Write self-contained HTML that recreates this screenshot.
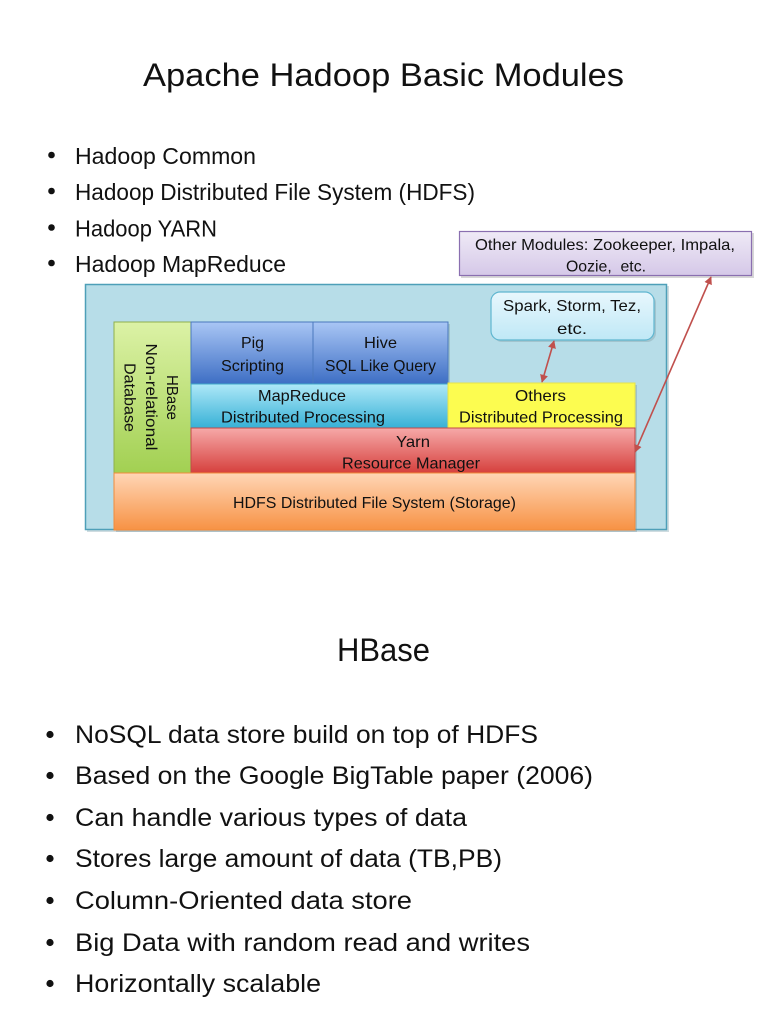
<!DOCTYPE html>
<html>
<head>
<meta charset="utf-8">
<style>
  html, body { margin: 0; padding: 0; background: #ffffff; }
  svg { display: block; }
  text { font-family: "Liberation Sans", "DejaVu Sans", sans-serif; fill: #111111; }
</style>
</head>
<body>
<svg width="768" height="1024" viewBox="0 0 768 1024" xmlns="http://www.w3.org/2000/svg">
  <defs>
    <linearGradient id="gGreen" x1="0" y1="0" x2="0" y2="1">
      <stop offset="0" stop-color="#dcf2a6"/>
      <stop offset="1" stop-color="#a2d052"/>
    </linearGradient>
    <linearGradient id="gBlue" x1="0" y1="0" x2="0" y2="1">
      <stop offset="0" stop-color="#a9c6f5"/>
      <stop offset="1" stop-color="#3d6ec4"/>
    </linearGradient>
    <linearGradient id="gCyan" x1="0" y1="0" x2="0" y2="1">
      <stop offset="0" stop-color="#aee8f8"/>
      <stop offset="1" stop-color="#37b1d6"/>
    </linearGradient>
    <linearGradient id="gRed" x1="0" y1="0" x2="0" y2="1">
      <stop offset="0" stop-color="#f6a9a8"/>
      <stop offset="1" stop-color="#d6403d"/>
    </linearGradient>
    <linearGradient id="gOrange" x1="0" y1="0" x2="0" y2="1">
      <stop offset="0" stop-color="#ffd6b6"/>
      <stop offset="1" stop-color="#f79244"/>
    </linearGradient>
    <linearGradient id="gSpark" x1="0" y1="0" x2="0" y2="1">
      <stop offset="0" stop-color="#e8f7fd"/>
      <stop offset="1" stop-color="#bfe8f6"/>
    </linearGradient>
    <linearGradient id="gLav" x1="0" y1="0" x2="0" y2="1">
      <stop offset="0" stop-color="#efeaf6"/>
      <stop offset="1" stop-color="#d5c8e8"/>
    </linearGradient>
    <marker id="ah" viewBox="0 0 10 10" refX="9" refY="5" markerWidth="8" markerHeight="8" orient="auto-start-reverse" markerUnits="userSpaceOnUse">
      <path d="M0,0 L10,5 L0,10 z" fill="#c0504d"/>
    </marker>
  </defs>

  <!-- Title -->
  <text x="143" y="86" font-size="32" textLength="481" lengthAdjust="spacingAndGlyphs">Apache Hadoop Basic Modules</text>

  <!-- First bullet list -->
  <g>
    <circle cx="51.5" cy="155" r="3.3" fill="#111"/>
    <text x="75" y="164" font-size="23" textLength="181" lengthAdjust="spacingAndGlyphs">Hadoop Common</text>
    <circle cx="51.5" cy="191" r="3.3" fill="#111"/>
    <text x="75" y="200" font-size="23" textLength="400" lengthAdjust="spacingAndGlyphs">Hadoop Distributed File System (HDFS)</text>
    <circle cx="51.5" cy="227.5" r="3.3" fill="#111"/>
    <text x="75" y="236.5" font-size="23" textLength="142" lengthAdjust="spacingAndGlyphs">Hadoop YARN</text>
    <circle cx="51.5" cy="263" r="3.3" fill="#111"/>
    <text x="75" y="272" font-size="23" textLength="211" lengthAdjust="spacingAndGlyphs">Hadoop MapReduce</text>
  </g>

  <!-- Diagram outer box -->
  <rect x="87" y="286" width="582" height="246" fill="#9fb9c2" opacity="0.5"/>
  <rect x="85.5" y="284.5" width="581" height="245" fill="#b7dde8" stroke="#4e9fb8" stroke-width="1.5"/>

  <!-- stack shadow following outline -->
  <path d="M116,324 L450,324 L450,385 L637,385 L637,532 L116,532 Z" fill="#6f8f99" opacity="0.35"/>

  <!-- HBase green -->
  <rect x="114" y="322" width="77" height="151" fill="url(#gGreen)" stroke="#8fb04c" stroke-width="1"/>
  <text transform="translate(167,397.5) rotate(90)" font-size="16" text-anchor="middle" textLength="45" lengthAdjust="spacingAndGlyphs">HBase</text>
  <text transform="translate(146,397) rotate(90)" font-size="16" text-anchor="middle" textLength="107" lengthAdjust="spacingAndGlyphs">Non-relational</text>
  <text transform="translate(124.5,397.5) rotate(90)" font-size="16" text-anchor="middle" textLength="69" lengthAdjust="spacingAndGlyphs">Database</text>

  <!-- Pig -->
  <rect x="191" y="322" width="122" height="62" fill="url(#gBlue)" stroke="#4a78bd" stroke-width="1"/>
  <text x="252.5" y="348" font-size="16" text-anchor="middle" textLength="23" lengthAdjust="spacingAndGlyphs">Pig</text>
  <text x="252.5" y="371" font-size="16" text-anchor="middle" textLength="63" lengthAdjust="spacingAndGlyphs">Scripting</text>

  <!-- Hive -->
  <rect x="313" y="322" width="135" height="62" fill="url(#gBlue)" stroke="#4a78bd" stroke-width="1"/>
  <text x="380.5" y="348" font-size="16" text-anchor="middle" textLength="33" lengthAdjust="spacingAndGlyphs">Hive</text>
  <text x="380.5" y="371" font-size="16" text-anchor="middle" textLength="111" lengthAdjust="spacingAndGlyphs">SQL Like Query</text>

  <!-- MapReduce -->
  <rect x="191" y="384" width="257" height="44" fill="url(#gCyan)" stroke="#3fa9c9" stroke-width="1"/>
  <text x="302" y="401" font-size="16" text-anchor="middle" textLength="88" lengthAdjust="spacingAndGlyphs">MapReduce</text>
  <text x="303" y="422.5" font-size="16" text-anchor="middle" textLength="164" lengthAdjust="spacingAndGlyphs">Distributed Processing</text>

  <!-- Others -->
  <rect x="448" y="383" width="187" height="45" fill="#fcfc50" stroke="#e6e24a" stroke-width="1"/>
  <text x="540.5" y="401" font-size="16" text-anchor="middle" textLength="51" lengthAdjust="spacingAndGlyphs">Others</text>
  <text x="541" y="422.5" font-size="16" text-anchor="middle" textLength="164" lengthAdjust="spacingAndGlyphs">Distributed Processing</text>

  <!-- Yarn -->
  <rect x="191" y="428" width="444" height="45" fill="url(#gRed)" stroke="#c24a47" stroke-width="1"/>
  <text x="413" y="447" font-size="16" text-anchor="middle" textLength="34" lengthAdjust="spacingAndGlyphs">Yarn</text>
  <text x="411" y="468.5" font-size="16" text-anchor="middle" textLength="138" lengthAdjust="spacingAndGlyphs">Resource Manager</text>

  <!-- HDFS -->
  <rect x="114" y="473" width="521" height="57" fill="url(#gOrange)" stroke="#f08c3c" stroke-width="1"/>
  <text x="374.5" y="508" font-size="16" text-anchor="middle" textLength="283" lengthAdjust="spacingAndGlyphs">HDFS Distributed File System (Storage)</text>

  <!-- Spark box -->
  <rect x="493" y="294" width="163" height="48" rx="9" ry="9" fill="#8aa7b0" opacity="0.45"/>
  <rect x="491" y="292" width="163" height="48" rx="9" ry="9" fill="url(#gSpark)" stroke="#5fb6d0" stroke-width="1.2"/>
  <text x="572" y="311" font-size="16" text-anchor="middle" textLength="138" lengthAdjust="spacingAndGlyphs">Spark, Storm, Tez,</text>
  <text x="572" y="334" font-size="16" text-anchor="middle" textLength="30" lengthAdjust="spacingAndGlyphs">etc.</text>

  <!-- Other Modules box -->
  <rect x="461" y="233" width="293" height="45" fill="#9a9a9a" opacity="0.4"/>
  <rect x="459.5" y="231.5" width="292" height="44" fill="url(#gLav)" stroke="#8a6fb0" stroke-width="1.2"/>
  <text x="605" y="250" font-size="16" text-anchor="middle" textLength="260" lengthAdjust="spacingAndGlyphs">Other Modules: Zookeeper, Impala,</text>
  <text x="606" y="271.5" font-size="16" text-anchor="middle" textLength="80" lengthAdjust="spacingAndGlyphs" xml:space="preserve">Oozie,  etc.</text>

  <!-- Arrows -->
  <line x1="554" y1="341" x2="542" y2="382" stroke="#c0504d" stroke-width="1.6" marker-start="url(#ah)" marker-end="url(#ah)"/>
  <line x1="711" y1="277" x2="635" y2="452" stroke="#c0504d" stroke-width="1.6" marker-start="url(#ah)" marker-end="url(#ah)"/>

  <!-- HBase title -->
  <text x="337" y="661" font-size="32" textLength="93" lengthAdjust="spacingAndGlyphs">HBase</text>

  <!-- Second bullet list -->
  <g>
    <circle cx="50" cy="734.5" r="3.6" fill="#111"/>
    <text x="75" y="743" font-size="25" textLength="463" lengthAdjust="spacingAndGlyphs">NoSQL data store build on top of HDFS</text>
    <circle cx="50" cy="775.5" r="3.6" fill="#111"/>
    <text x="75" y="784" font-size="25" textLength="518" lengthAdjust="spacingAndGlyphs">Based on the Google BigTable paper (2006)</text>
    <circle cx="50" cy="817.5" r="3.6" fill="#111"/>
    <text x="75" y="826" font-size="25" textLength="392" lengthAdjust="spacingAndGlyphs">Can handle various types of data</text>
    <circle cx="50" cy="858.5" r="3.6" fill="#111"/>
    <text x="75" y="867" font-size="25" textLength="427" lengthAdjust="spacingAndGlyphs">Stores large amount of data (TB,PB)</text>
    <circle cx="50" cy="900.5" r="3.6" fill="#111"/>
    <text x="75" y="909" font-size="25" textLength="337" lengthAdjust="spacingAndGlyphs">Column-Oriented data store</text>
    <circle cx="50" cy="942.5" r="3.6" fill="#111"/>
    <text x="75" y="951" font-size="25" textLength="455" lengthAdjust="spacingAndGlyphs">Big Data with random read and writes</text>
    <circle cx="50" cy="983.5" r="3.6" fill="#111"/>
    <text x="75" y="992" font-size="25" textLength="246" lengthAdjust="spacingAndGlyphs">Horizontally scalable</text>
  </g>
</svg>
</body>
</html>
